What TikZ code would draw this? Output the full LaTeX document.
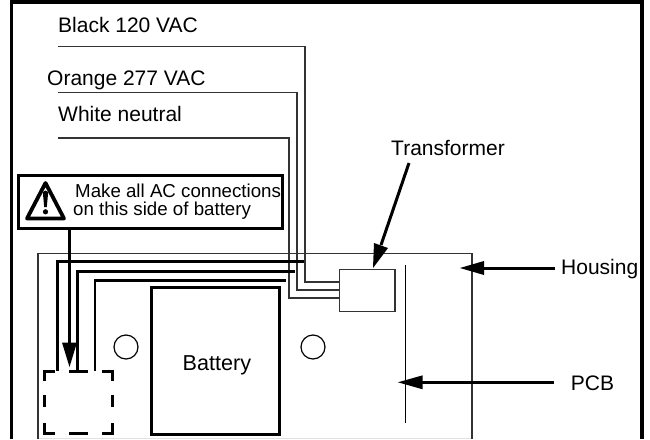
\documentclass[tikz,border=0pt]{standalone}
\usepackage{fontspec}
\setmainfont{Liberation Sans}
\tikzset{
  frame/.style={line width=3.6pt},
  thin wire/.style={line width=1.4pt,draw=black!80},
  thick wire/.style={line width=3pt},
  label/.style={inner sep=0pt,anchor=base west,font=\fontsize{21}{24}\selectfont},
  warn/.style={inner sep=0pt,anchor=base west,font=\fontsize{18.7}{20}\selectfont},
  dashpart/.style={line width=3pt},
  lead/.style={line width=3pt},
  tip/.style={fill=black,draw=none},
  boxn/.style={inner sep=0pt,outer sep=0pt,anchor=north west}
}
\begin{document}
\begin{tikzpicture}[x=1pt,y=-1pt]
\useasboundingbox (0,0) rectangle (650,439);
% outer frame
\draw[frame] (11.5,439) -- (11.5,2.2) -- (642,2.2) -- (642,439);
% housing
\draw[line width=1pt,draw=black!12] (38,438.3) -- (472,438.3);
\draw[thin wire] (38,439) -- (38,253.5) -- (472,253.5) -- (472,439);
% transformer
\node[boxn,draw=black!80,line width=1.5pt,minimum width=55.5pt,minimum height=42pt] (xfmr) at (339.5,269.5) {};
% PCB
\coordinate (pcbtop) at (405.5,265);
\coordinate (pcbbot) at (405.5,422.7);
\draw[line width=1.3pt] (pcbtop) -- (pcbbot);
% labels
\node[label] (black) at (58,32.5) {Black 120 VAC};
\node[label] (orange) at (47,85.5) {Orange 277 VAC};
\node[label] (white) at (58,121.5) {White neutral};
\node[label] (trlabel) at (391,155.5) {Transformer};
\node[label] (hous) at (561,274.5) {Housing};
\node[label] (pcb) at (570.7,390) {PCB};
% incoming wires
\coordinate (bs) at (58,46.5);
\coordinate (os) at (58,92.5);
\coordinate (ws) at (58,138);
\draw[thin wire] (bs) -- (305,46.5) -- (305,282) -- (339.5,282);
\draw[thin wire] (os) -- (297,92.5) -- (297,290) -- (339.5,290);
\draw[thin wire] (ws) -- (289,138) -- (289,298) -- (339.5,298);
% thick wires
\draw[thick wire] (303.5,261) -- (57.5,261) -- (57.5,371);
\draw[thick wire] (294.5,271.5) -- (77.5,271.5) -- (77.5,371);
\draw[line width=2.5pt] (286,280.5) -- (95,280.5) -- (95,371);
% battery
\node[boxn,draw,line width=3pt,minimum width=127.5pt,minimum height=146.5pt] (batt) at (151.5,287.5) {};
\node[inner sep=0pt,anchor=base west,font=\fontsize{21.6}{24}\selectfont] at (182.5,370) {Battery};
\draw[line width=1.2pt] (126,347) circle (12);
\draw[line width=1.2pt] (313,347) circle (12);
% dashed box
\draw[dashpart] (44.5,381) -- (44.5,371.5) -- (55,371.5);
\draw[dashpart] (69,371.5) -- (88,371.5);
\draw[dashpart] (102,371.5) -- (112.5,371.5) -- (112.5,381);
\draw[dashpart] (44.5,395) -- (44.5,407);
\draw[dashpart] (112.5,395) -- (112.5,407);
\draw[dashpart] (44.5,423) -- (44.5,433.5) -- (55,433.5);
\draw[dashpart] (69,433.5) -- (88,433.5);
\draw[dashpart] (102,433.5) -- (112.5,433.5) -- (112.5,423);
% warning box
\node[boxn,draw,line width=3pt,fill=white,minimum width=264pt,minimum height=52.5pt] (warnbox) at (18,175.5) {};
\node[warn] at (75,197) {Make all AC connections};
\node[warn] at (73,215) {on this side of battery};
\draw[line width=3.8pt,line join=round] (45.5,183) -- (27,218.5) -- (64,218.5) -- cycle;
\fill (42.8,192) -- (45.5,190.5) -- (48.2,192) -- (46.8,207) -- (44.2,207) -- cycle;
\fill (45.5,211.8) circle (2.6);
% arrows
\draw[lead] (69.5,228) -- (69.5,345);
\fill[tip] (62,342.5) -- (77,342.5) -- (69.5,367) -- cycle;
\draw[lead] (409,163) -- (381,245);
\fill[tip] (373,268) -- (374,243) -- (388,248) -- cycle;
\draw[lead] (555,268) -- (480,268);
\fill[tip] (460,268) -- (484,261) -- (484,275) -- cycle;
\draw[lead] (554,382.3) -- (420,382.3);
\fill[tip] (398,382.3) -- (422.7,375.3) -- (422.7,389.3) -- cycle;
\end{tikzpicture}
\end{document}
